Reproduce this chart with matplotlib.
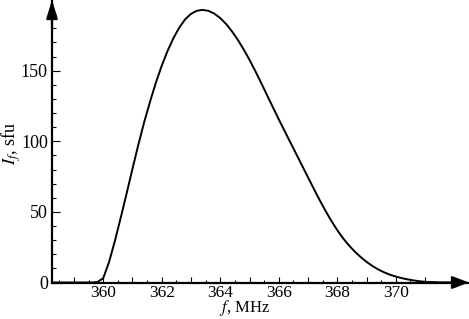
import matplotlib
matplotlib.use("Agg")
import matplotlib.pyplot as plt
from matplotlib.ticker import FixedLocator

# Data (frequency in MHz, flux density in sfu)
freq = [358.25, 359.0, 359.6, 359.8, 360.0, 360.2, 360.4, 360.6, 360.8, 361.0,
        361.2, 361.4, 361.6, 361.8, 362.0, 362.2, 362.4, 362.6, 362.8, 363.0,
        363.2, 363.4, 363.6, 363.8, 364.0, 364.2, 364.4, 364.6, 364.8, 365.0,
        365.2, 365.4, 365.6, 365.8, 366.0, 366.2, 366.4, 366.6, 366.8, 367.0,
        367.2, 367.4, 367.6, 367.8, 368.0, 368.2, 368.4, 368.6, 368.8, 369.0,
        369.2, 369.4, 369.6, 369.8, 370.0, 370.2, 370.4, 370.6, 370.8, 371.0,
        371.2, 371.4]
flux = [0.0, 0.0, 0.0, 0.3, 3.0, 14.5, 29.5, 46.0, 63.0, 80.5,
        97.5, 113.5, 128.0, 141.5, 153.5, 164.0, 173.0, 180.5, 186.3, 190.2,
        192.4, 193.0, 192.3, 190.3, 187.2, 183.0, 177.8, 171.8, 165.0, 157.6,
        149.6, 141.2, 132.6, 124.0, 115.5, 107.2, 99.0, 90.8, 82.6, 74.4,
        66.2, 58.2, 50.6, 43.5, 37.0, 31.2, 26.2, 21.8, 18.0, 14.6,
        11.7, 9.2, 7.2, 5.5, 4.2, 3.1, 2.2, 1.5, 0.9, 0.5,
        0.2, 0.0]
xtick_values = list(range(359, 372))
xtick_labels = [360, 362, 364, 366, 368, 370]
ytick_labels = [0, 50, 100, 150]

plt.rcParams['font.family'] = ['Liberation Serif', 'DejaVu Serif']
plt.rcParams['mathtext.fontset'] = 'stix'

W, H = 469, 319
fig = plt.figure(figsize=(W / 100, H / 100), dpi=100)
ax = fig.add_axes([52 / W, 36.5 / H, (W - 52) / W, 282.5 / H])

ax.plot(freq, flux, color='black', lw=1.4, solid_joinstyle='round', solid_capstyle='round')

ax.set_xlim(358.25, 372.5)
ax.set_ylim(0, 200)

for s in ('top', 'right'):
    ax.spines[s].set_visible(False)
for s in ('left', 'bottom'):
    ax.spines[s].set_linewidth(1.6)

ax.set_xticks(xtick_values)
ax.set_xticklabels([str(v) if v in xtick_labels else '' for v in xtick_values])
ax.set_xticks([v + 0.5 for v in range(358, 371)], minor=True)
ax.set_yticks(ytick_labels)
ax.set_yticklabels([str(v) for v in ytick_labels])
ax.yaxis.set_minor_locator(FixedLocator([v for v in range(10, 200, 10) if v % 50 != 0]))

ax.tick_params(axis='x', which='major', direction='in', length=4.5, width=0.8,
               labelsize=12.5, pad=1.5)
ax.tick_params(axis='x', which='minor', direction='in', length=2.5, width=0.8)
ax.tick_params(axis='y', which='major', direction='in', length=6, width=0.8,
               labelsize=13, pad=3)
ax.tick_params(axis='y', which='minor', direction='in', length=3, width=0.8)

# axis arrows
ax.annotate('', xy=(1.0, 0), xytext=(0.9, 0), xycoords='axes fraction',
            arrowprops=dict(arrowstyle='-|>,head_length=1.0,head_width=0.38',
                            lw=1.6, color='black', shrinkA=0, shrinkB=0, mutation_scale=10),
            annotation_clip=False)
ax.annotate('', xy=(0, 1.0), xytext=(0, 0.9), xycoords='axes fraction',
            arrowprops=dict(arrowstyle='-|>,head_length=1.1,head_width=0.34',
                            lw=1.6, color='black', shrinkA=0, shrinkB=0, mutation_scale=10),
            annotation_clip=False)

fig.text(11 / W, 1 - 143 / H, r'$I_f$, sfu', rotation=90, ha='center', va='center', fontsize=13)
fig.text(245 / W, 1 - 318.5 / H, r'$f$, MHz', ha='center', va='bottom', fontsize=12)

fig.savefig('out.png', dpi=100)
